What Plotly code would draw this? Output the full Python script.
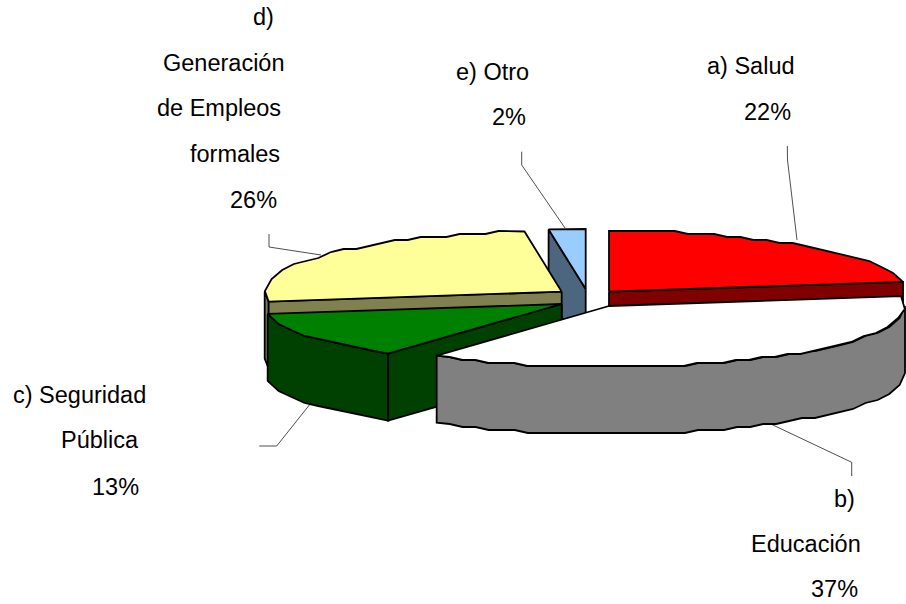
import numpy as np
import plotly.graph_objects as go

# ---- data ----
categories = ["a) Salud", "b) Educación", "c) Seguridad Pública",
              "d) Generación de Empleos formales", "e) Otro"]
shares = [22.4, 37.49, 12.51, 25.6, 2.0]

label_lines = ["a) Salud", "22%", "b)", "Educación", "37%", "c) Seguridad", "Pública", "13%",
               "d)", "Generación", "de Empleos", "formales", "26%", "e) Otro", "2%"]

# ---- styling / placement ----
top_colors = ["#FF0000", "#FFFFFF", "#008000", "#FFFF99", "#99CCFF"]
side_colors = ["#800000", "#808080", "#004000", "#808050", "#4C6680"]
apex_x = [609.0, 609.0, 561.7, 561.7, 585.7]
apex_y = [291.7, 306.0, 304.0, 291.7, 289.0]
radius_a = [298, 296, 298, 297, 296]
radius_b = [60.7, 61, 61, 60.7, 60]
depth = 67
label_cx = [750.5, 767.5, 844.5, 806, 834, 79, 100, 115.5, 263, 224, 219, 234.5, 253, 492, 509]
label_base = [73.3, 119.3, 506.7, 551.7, 596.7, 402.7, 447.7, 494, 24.5, 70.7, 115.7, 161.7, 207, 79.3, 124]
leader_x = [[787.3, 787.5, 797], [768, 851.7, 851.7], [259.3, 276.7, 310.7], [269, 269, 321], [521.7, 521.7, 565]]
leader_y = [[146, 160, 240], [422.7, 462.3, 476], [446, 446, 403.3], [234, 247, 255], [151.7, 165, 228]]
FONT_PX = 23.5
BASE_TO_MID = 7.5
STEP_LEN = 13.0
STEP_Y = 3.0
LINE_W = 1.8

ends = np.cumsum(shares) / np.sum(shares) * 360.0
starts = np.concatenate([[0.0], ends[:-1]])


def arc(i, t0, t1, dy=0.0):
    """Outline of a slice's rim from angle t0 to t1 (deg, clockwise from 12 o'clock)."""
    t = np.radians(np.linspace(t0, t1, 800))
    x = apex_x[i] + radius_a[i] * np.sin(t)
    y = apex_y[i] - radius_b[i] * np.cos(t)
    s = np.concatenate([[0], np.cumsum(np.hypot(np.diff(x), np.diff(y)))])
    if s[-1] < 60:
        return np.array([x[0], x[-1]]), np.array([y[0], y[-1]]) + dy
    n = int(s[-1] / STEP_LEN) + 1
    si = np.linspace(0, s[-1], n)
    xi = np.interp(si, s, x)
    yi = np.interp(si, s, y)
    yq = np.round(yi / STEP_Y) * STEP_Y
    yq[0], yq[-1] = yi[0], yi[-1]
    return xi, yq + dy


fig = go.Figure()


def poly(xs, ys, color):
    fig.add_trace(go.Scatter(x=list(xs) + [xs[0]], y=list(ys) + [ys[0]], mode="lines", fill="toself",
                             fillcolor=color, line=dict(color="#000000", width=LINE_W),
                             hoverinfo="skip", showlegend=False))


def rim_side(i, t0, t1):
    xa, ya = arc(i, t0, t1)
    poly(np.concatenate([xa, xa[::-1]]), np.concatenate([ya, ya[::-1] + depth]), side_colors[i])


def cut_face(i, t):
    r = np.radians(t)
    ex = apex_x[i] + radius_a[i] * np.sin(r)
    ey = apex_y[i] - radius_b[i] * np.cos(r)
    poly([apex_x[i], ex, ex, apex_x[i]], [apex_y[i], ey, ey + depth, apex_y[i] + depth], side_colors[i])


def top(i):
    xa, ya = arc(i, starts[i], ends[i])
    poly(np.concatenate([[apex_x[i]], xa]), np.concatenate([[apex_y[i]], ya]), top_colors[i])


for lx, ly in zip(leader_x, leader_y):
    fig.add_trace(go.Scatter(x=lx, y=ly, mode="lines", line=dict(color="#222222", width=0.8),
                             hoverinfo="skip", showlegend=False))

# painter's order, back to front
cut_face(0, ends[0]); top(0)                       # Salud
cut_face(4, starts[4]); top(4)                     # Otro
rim_side(3, starts[3], 270); cut_face(3, starts[3]); top(3)   # Generación
rim_side(2, starts[2], ends[2]); cut_face(2, starts[2]); top(2)   # Seguridad
rim_side(1, 90, ends[1]); top(1)                   # Educación

for txt, cx, base in zip(label_lines, label_cx, label_base):
    fig.add_annotation(x=cx, y=base - BASE_TO_MID, text=txt, showarrow=False, xanchor="center",
                       yanchor="middle", font=dict(family="Liberation Sans, Arial, sans-serif",
                                                   size=FONT_PX, color="#000000"))

fig.update_xaxes(range=[0, 906], visible=False, fixedrange=True)
fig.update_yaxes(range=[604, 0], visible=False, fixedrange=True)
fig.update_layout(width=906, height=604, margin=dict(l=0, r=0, t=0, b=0),
                  paper_bgcolor="#FFFFFF", plot_bgcolor="#FFFFFF")
fig.write_html("out.html", config=dict(displayModeBar=False),
               post_script="document.body.style.margin='0';document.body.style.overflow='hidden';")
